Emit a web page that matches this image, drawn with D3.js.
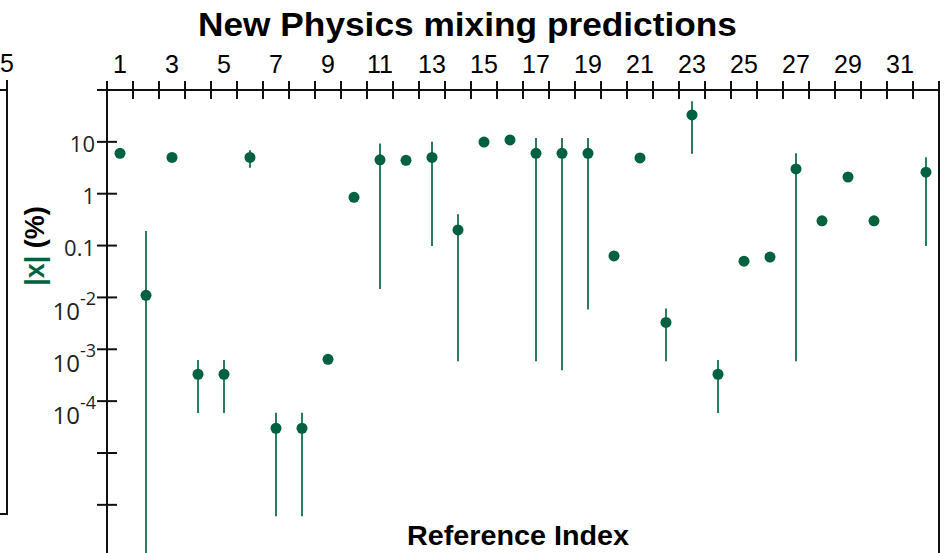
<!DOCTYPE html>
<html>
<head>
<meta charset="utf-8">
<script src="https://cdn.jsdelivr.net/npm/d3@7"></script>
<style>
  body { margin: 0; background: #fff; }
  svg { display: block; }
  .tick-x { font-family: "Liberation Sans", Arial, sans-serif; font-size: 25px; fill: #000; }
  .tick-y { font-family: "Open Sans", sans-serif; fill: #231f20; }
  .title { font-family: "Liberation Sans", Arial, sans-serif; font-weight: bold; fill: #000; }
</style>
</head>
<body>
<div id="chart"></div>
<script>
// reference index, central value of |x| in %, and error bar ends (null = no bar)
var refIndex = [1, 2, 3, 4, 5, 6, 7, 8, 9, 10, 11, 12, 13, 14, 15, 16,
                17, 18, 19, 20, 21, 22, 23, 24, 25, 26, 27, 28, 29, 30, 32];
var mixing   = [6.0, 0.011, 5.0, 3.3e-4, 3.3e-4, 5.0, 3.0e-5, 3.0e-5, 6.4e-4, 0.85, 4.5, 4.4, 5.0, 0.2, 9.9, 10.9,
                6.0, 6.0, 6.0, 0.063, 4.9, 3.3e-3, 33, 3.3e-4, 0.05, 0.06, 3.0, 0.3, 2.1, 0.3, 2.6];
var errLow   = [null, 1e-7, null, 5.9e-5, 5.9e-5, 3.15, 6e-7, 6e-7, null, null, 0.0146, null, 0.098, 5.9e-4, null, null,
                5.9e-4, 3.95e-4, 5.85e-3, null, null, 5.9e-4, 5.9, 5.9e-5, null, null, 5.9e-4, null, null, null, 0.098];
var errHigh  = [null, 0.19, null, 6.2e-4, 6.2e-4, 6.9, 6e-5, 6e-5, null, null, 9.3, null, 10, 0.4, null, null,
                11.9, 11.9, 11.9, null, null, 6.1e-3, 61, 6.2e-4, null, null, 6.05, null, null, null, 5.07];

var xTickLabels = [1, 3, 5, 7, 9, 11, 13, 15, 17, 19, 21, 23, 25, 27, 29, 31];
var yDecades = [100, 10, 1, 0.1, 1e-2, 1e-3, 1e-4, 1e-5, 1e-6, 1e-7];
var yPlainLabels = [[10, "10"], [1, "1"], [0.1, "0.1"]];
var yExpLabels = [[1e-2, "-2"], [1e-3, "-3"], [1e-4, "-4"]];

var W = 945, H = 553;
var dotColor = "#00613f", barColor = "#2b7b5f";

var svg = d3.select("#chart").append("svg")
  .attr("width", W).attr("height", H);

var x = d3.scaleLinear().domain([0.5, 32.5]).range([107, 939]);
var y = d3.scaleLog().domain([1e-7, 100]).range([556.7, 90]);

var y0 = y(100);

// fragment of the neighbouring panel on the left
svg.append("path")
  .attr("d", "M0,90H7M7,80V514H0")
  .attr("fill", "none").attr("stroke", "#111").attr("stroke-width", 2);
svg.append("text").attr("class", "tick-x")
  .attr("x", 0).attr("y", 72).attr("font-size", 22).text("5");

// title
svg.append("text").attr("class", "title")
  .attr("x", 198).attr("y", 36)
  .attr("font-size", 33)
  .attr("textLength", 539).attr("lengthAdjust", "spacingAndGlyphs")
  .text("New Physics mixing predictions");

// frame: left and right axis lines, top axis
var g = svg.append("g").attr("stroke", "#111").attr("stroke-width", 2);
g.append("line").attr("x1", x(0.5)).attr("x2", x(32.5)).attr("y1", y0).attr("y2", y0);
g.append("line").attr("x1", x(0.5)).attr("x2", x(0.5)).attr("y1", y0).attr("y2", y(1e-7));
g.append("line").attr("x1", x(32.5)).attr("x2", x(32.5)).attr("y1", y0).attr("y2", y(1e-7));

// top ticks at category boundaries, crossing the axis
var bounds = d3.range(0.5, 33, 1);
g.selectAll(".xt").data(bounds).enter().append("line")
  .attr("x1", function(d) { return x(d); }).attr("x2", function(d) { return x(d); })
  .attr("y1", y0 - 9).attr("y2", y0 + 9);

svg.selectAll(".xl").data(xTickLabels).enter().append("text")
  .attr("class", "tick-x")
  .attr("x", function(d) { return x(d); }).attr("y", 73)
  .attr("text-anchor", "middle")
  .text(function(d) { return d; });

// left ticks at decades, crossing the axis
g.selectAll(".yt").data(yDecades).enter().append("line")
  .attr("x1", x(0.5) - 10).attr("x2", x(0.5) + 10)
  .attr("y1", function(d) { return y(d); }).attr("y2", function(d) { return y(d); });

svg.selectAll(".yl").data(yPlainLabels).enter().append("text")
  .attr("class", "tick-y").attr("font-size", 22)
  .attr("x", 95).attr("y", function(d) { return y(d[0]) + 10; })
  .attr("text-anchor", "end")
  .text(function(d) { return d[1]; });

var ex = svg.selectAll(".ye").data(yExpLabels).enter().append("text")
  .attr("class", "tick-y").attr("font-size", 24)
  .attr("x", 96).attr("y", function(d) { return y(d[0]) + 23; })
  .attr("text-anchor", "end");
ex.append("tspan").text("10");
ex.append("tspan").attr("font-size", 18).attr("dy", -15).text(function(d) { return d[1]; });

// y axis title
var yt = svg.append("text").attr("class", "title")
  .attr("font-size", 27)
  .attr("transform", "translate(44,246) rotate(-90)")
  .attr("text-anchor", "middle");
yt.append("tspan").attr("fill", dotColor).text("|x|");
yt.append("tspan").text(" (%)");

// x axis title
svg.append("text").attr("class", "title")
  .attr("x", 407).attr("y", 545)
  .attr("font-size", 28)
  .attr("textLength", 222).attr("lengthAdjust", "spacingAndGlyphs")
  .text("Reference Index");

// error bars and points
var pts = refIndex.map(function(r, i) {
  return { ref: r, v: mixing[i], lo: errLow[i], hi: errHigh[i] };
});

svg.selectAll(".err").data(pts.filter(function(d) { return d.lo !== null; }))
  .enter().append("line")
  .attr("x1", function(d) { return x(d.ref); }).attr("x2", function(d) { return x(d.ref); })
  .attr("y1", function(d) { return y(d.hi); }).attr("y2", function(d) { return y(d.lo); })
  .attr("stroke", barColor).attr("stroke-width", 2);

svg.selectAll(".pt").data(pts).enter().append("circle")
  .attr("cx", function(d) { return x(d.ref); })
  .attr("cy", function(d) { return y(d.v); })
  .attr("r", 5.5)
  .attr("fill", dotColor);
</script>
</body>
</html>
